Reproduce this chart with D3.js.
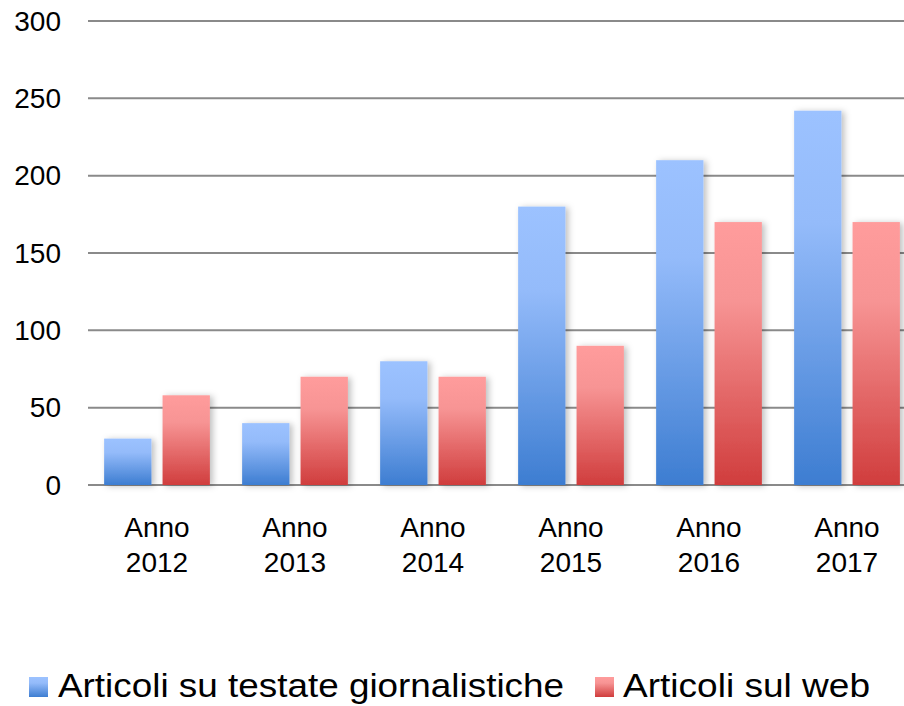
<!DOCTYPE html>
<html>
<head>
<meta charset="utf-8">
<script src="https://cdn.jsdelivr.net/npm/d3@7"></script>
<style>
  html, body { margin: 0; padding: 0; background: #fff; overflow: hidden; }
  svg { display: block; }
  text { font-family: "Liberation Sans", Arial, sans-serif; fill: #000; }
</style>
</head>
<body>
<div id="chart"></div>
<script>
const categories = ["Anno 2012", "Anno 2013", "Anno 2014", "Anno 2015", "Anno 2016", "Anno 2017"];
const seriesNames = ["Articoli su testate giornalistiche", "Articoli sul web"];
const testate = [30, 40, 80, 180, 210, 242];
const web = [58, 70, 70, 90, 170, 170];
const yTicks = [0, 50, 100, 150, 200, 250, 300];

const width = 904, height = 706;
const margin = { top: 21, right: -12, bottom: 221, left: 88 };
const innerWidth = width - margin.left - margin.right;
const innerHeight = height - margin.top - margin.bottom;

const svg = d3.select("#chart").append("svg")
    .attr("width", width)
    .attr("height", height);

const defs = svg.append("defs");

// gradients for the two series
const grads = [
    { id: "gBlue", stops: ["#9cc2ff", "#94bbfa", "#3d7dd1"] },
    { id: "gRed", stops: ["#ff9c9c", "#f79494", "#d03d3d"] }
];
grads.forEach(g => {
    const lg = defs.append("linearGradient")
        .attr("id", g.id)
        .attr("x1", 0).attr("y1", 0).attr("x2", 0).attr("y2", 1);
    lg.append("stop").attr("offset", "0%").attr("stop-color", g.stops[0]);
    lg.append("stop").attr("offset", "30%").attr("stop-color", g.stops[1]);
    lg.append("stop").attr("offset", "100%").attr("stop-color", g.stops[2]);
});

const shadow = defs.append("filter")
    .attr("id", "shadow")
    .attr("x", "-20%").attr("y", "-10%")
    .attr("width", "150%").attr("height", "130%");
shadow.append("feDropShadow")
    .attr("dx", 3).attr("dy", 1)
    .attr("stdDeviation", 3)
    .attr("flood-color", "#000")
    .attr("flood-opacity", 0.25);

const g = svg.append("g")
    .attr("transform", `translate(${margin.left},${margin.top})`);

const x = d3.scaleBand()
    .domain(categories)
    .range([0, innerWidth]);

const xSub = d3.scaleBand()
    .domain(seriesNames)
    .range([0, x.bandwidth()])
    .paddingInner(0.19)
    .paddingOuter(0.276);

const y = d3.scaleLinear()
    .domain([0, 300])
    .range([innerHeight, 0]);

// gridlines
g.append("g")
    .selectAll("line")
    .data(yTicks)
    .join("line")
    .attr("x1", 0)
    .attr("x2", innerWidth)
    .attr("y1", d => y(d))
    .attr("y2", d => y(d))
    .attr("stroke", "#8a8a8a")
    .attr("stroke-width", 2);

// y labels
g.append("g")
    .selectAll("text")
    .data(yTicks)
    .join("text")
    .attr("x", -27)
    .attr("y", d => y(d))
    .attr("dy", "0.35em")
    .attr("text-anchor", "end")
    .style("font-size", "28px")
    .text(d => d);

// bars
const rows = categories.map((c, i) => ({ cat: c, values: [testate[i], web[i]] }));

const groups = g.append("g")
    .selectAll("g")
    .data(rows)
    .join("g")
    .attr("transform", d => `translate(${x(d.cat)},0)`);

groups.selectAll("rect")
    .data(d => d.values.map((v, i) => ({ name: seriesNames[i], value: v, i })))
    .join("rect")
    .attr("x", d => xSub(d.name))
    .attr("width", xSub.bandwidth())
    .attr("y", d => y(d.value))
    .attr("height", d => innerHeight - y(d.value))
    .attr("fill", d => d.i === 0 ? "url(#gBlue)" : "url(#gRed)")
    .attr("filter", "url(#shadow)");

// category labels, two lines
const xl = g.append("g")
    .selectAll("text")
    .data(categories)
    .join("text")
    .attr("text-anchor", "middle")
    .style("font-size", "28px")
    .attr("transform", d => `translate(${x(d) + x.bandwidth() / 2},${innerHeight})`);
xl.append("tspan").attr("x", 0).attr("y", 52).text(d => d.split(" ")[0]);
xl.append("tspan").attr("x", 0).attr("y", 87).text(d => d.split(" ")[1]);

// legend
const legend = svg.append("g");
const legendItems = [
    { name: seriesNames[0], fill: "url(#gBlue)", sx: 29, tx: 58, len: 506 },
    { name: seriesNames[1], fill: "url(#gRed)", sx: 595, tx: 623, len: 247 }
];
legendItems.forEach(it => {
    legend.append("rect")
        .attr("x", it.sx).attr("y", 677)
        .attr("width", 19).attr("height", 20)
        .attr("fill", it.fill);
    legend.append("text")
        .attr("x", it.tx).attr("y", 697)
        .style("font-size", "33px")
        .attr("textLength", it.len)
        .attr("lengthAdjust", "spacingAndGlyphs")
        .text(it.name);
});
</script>
</body>
</html>
